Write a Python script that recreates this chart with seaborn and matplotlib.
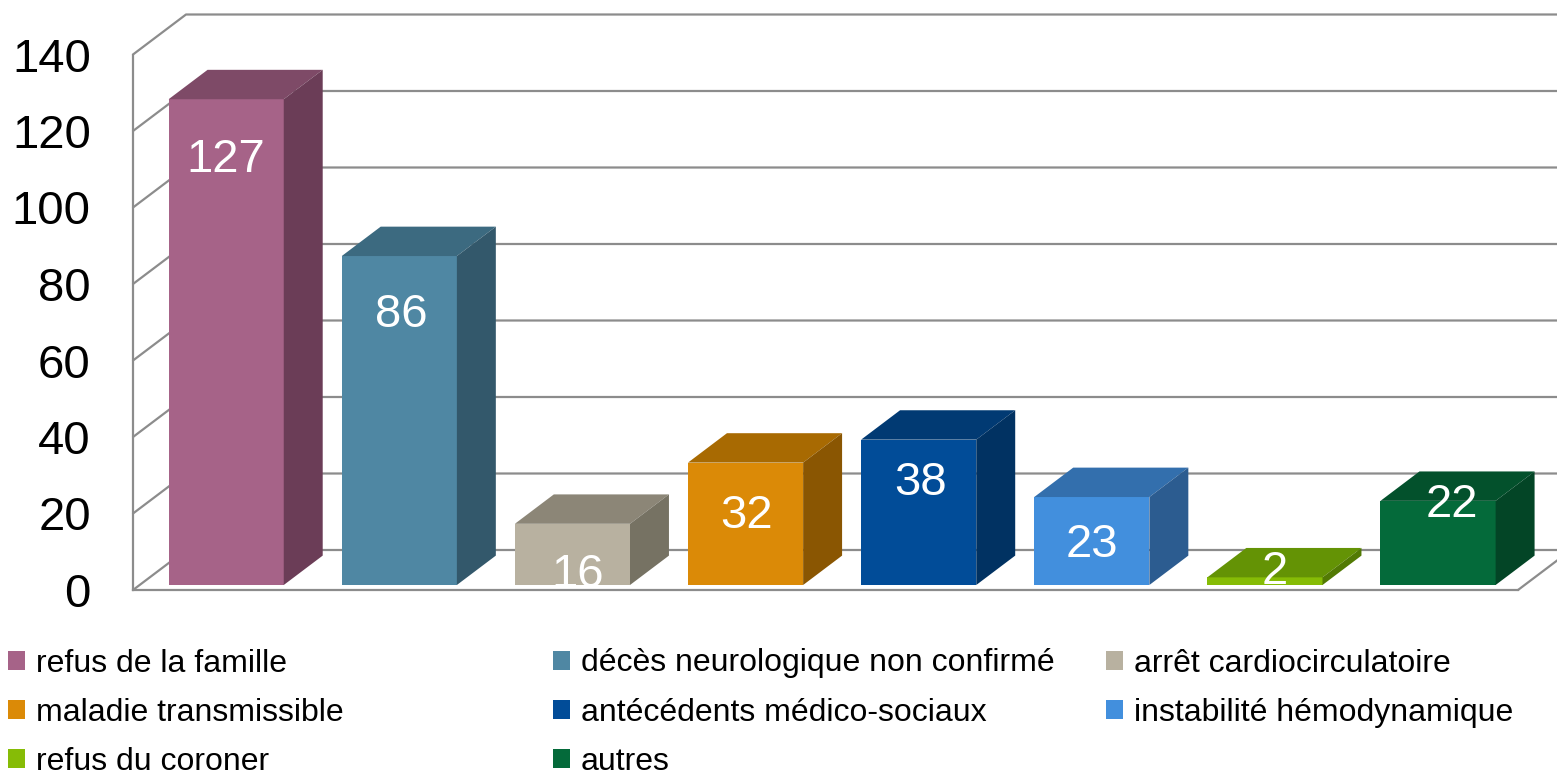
import matplotlib
matplotlib.use("Agg")
import matplotlib.pyplot as plt
import seaborn as sns
from matplotlib.patches import Polygon, Patch
from matplotlib.lines import Line2D
from matplotlib.transforms import Affine2D, IdentityTransform

# ---------------- data ----------------
categories = ["refus de la famille", "décès neurologique non confirmé",
              "arrêt cardiocirculatoire", "maladie transmissible",
              "antécédents médico-sociaux", "instabilité hémodynamique",
              "refus du coroner", "autres"]
values = [127, 86, 16, 32, 38, 23, 2, 22]
y_ticks = [0, 20, 40, 60, 80, 100, 120, 140]

# ---------------- styles ----------------
front_colors = ["#A66388", "#4F87A3", "#B8B1A0", "#DB8A07",
                "#014C98", "#428FDD", "#86BC06", "#046A3A"]
top_colors = ["#7E4A67", "#3C6A80", "#8C8677", "#A86A02",
              "#013A73", "#336FAD", "#649305", "#03512C"]
side_colors = ["#6B3D57", "#33586B", "#767263", "#8A5602",
               "#013262", "#2C5C90", "#527A04", "#034526"]
# label offsets in px (dx, dy) relative to the front-top-centre of each bar
label_offsets = [(0, -56), (2, -54), (5, -46), (1, -48),
                 (2, -38), (0, -43), (10, 10), (14, 1)]

GRID = "#8C8C8C"
W, H = 1557, 775
DX, DY = 53.0, 40.0        # full depth offset (px)
D0, D1 = 0.125, 0.86       # bar front / back depth fractions

sns.set_theme(style="white")
plt.rcParams["font.family"] = ["Liberation Sans", "DejaVu Sans"]
plt.rcParams["text.color"] = "black"

fig = plt.figure(figsize=(W / 100, H / 100), dpi=100)
ax = fig.add_axes([133 / W, (H - 590) / H, (1518 - 133) / W, (590 - 54.5) / H])

sns.barplot(x=categories, y=values, hue=categories, order=categories,
            hue_order=categories, palette=front_colors, saturation=1,
            width=0.665, legend=False, linewidth=0, ax=ax)

ax.set_xlim(-0.5, 7.5)
ax.set_ylim(0, 140)
ax.autoscale(False)
ax.patch.set_visible(False)


def P(x, y, d):
    X, Y = ax.transData.transform((x, y))
    return (X + d * DX, Y + d * DY)


# walls / grid
for v in y_ticks:
    pts = [P(-0.5, v, 0), P(-0.5, v, 1), P(7.5, v, 1)]
    ax.add_line(Line2D([p[0] for p in pts], [p[1] for p in pts],
                       transform=IdentityTransform(), color=GRID, lw=1.6,
                       zorder=0.5, clip_on=False))
pts = [P(7.5, 0, 0), P(7.5, 0, 1)]
ax.add_line(Line2D([p[0] for p in pts], [p[1] for p in pts],
                   transform=IdentityTransform(), color=GRID, lw=1.6,
                   zorder=0.5, clip_on=False))

# 3D bars
bars = sorted([p for p in ax.patches if p.get_width() > 0], key=lambda p: p.get_x())
shift = Affine2D().translate(D0 * DX, D0 * DY)
for i, p in enumerate(bars):
    p.set_transform(ax.transData + shift)
    p.set_zorder(3)
    x0, w, h = p.get_x(), p.get_width(), p.get_height()
    x1 = x0 + w
    top = [P(x0, h, D0), P(x1, h, D0), P(x1, h, D1), P(x0, h, D1)]
    side = [P(x1, 0, D0), P(x1, h, D0), P(x1, h, D1), P(x1, 0, D1)]
    ax.add_patch(Polygon(top, closed=True, fc=top_colors[i], lw=0,
                         transform=IdentityTransform(), zorder=3, clip_on=False))
    ax.add_patch(Polygon(side, closed=True, fc=side_colors[i], lw=0,
                         transform=IdentityTransform(), zorder=3, clip_on=False))
    cx, cy = P(x0 + w / 2, h, D0)
    ldx, ldy = label_offsets[i]
    ax.text(cx + ldx, cy + ldy - 17, f"{values[i]}", transform=IdentityTransform(),
            ha="center", va="baseline", color="white", fontsize=34, zorder=6)

# axes decoration
for s in ["top", "right"]:
    ax.spines[s].set_visible(False)
for s in ["left", "bottom"]:
    ax.spines[s].set_color(GRID)
    ax.spines[s].set_linewidth(1.6)
ax.set_xticks([])
ax.set_yticks(y_ticks)
ax.set_yticklabels([str(t) for t in y_ticks])
ax.tick_params(axis="y", length=9.4, width=1.6, color=GRID, pad=21,
               labelsize=34, labelcolor="black")
ax.set_xlabel("")
ax.set_ylabel("")

# legend: three columns placed like the original
handles = [Patch(facecolor=c, edgecolor="none") for c in front_colors]
col_x = [8, 553, 1106]
for j in range(3):
    idx = list(range(j, len(categories), 3))
    leg = fig.legend([handles[k] for k in idx], [categories[k] for k in idx],
                     loc="upper left", bbox_to_anchor=(col_x[j] / W, (H - 648.5) / H),
                     frameon=False, borderpad=0, borderaxespad=0, fontsize=23,
                     handlelength=0.53, handleheight=0.53, handletextpad=0.34,
                     labelspacing=0.6)
    for t in leg.get_texts():
        t.set_color("black")

fig.savefig("out.png", dpi=100)
